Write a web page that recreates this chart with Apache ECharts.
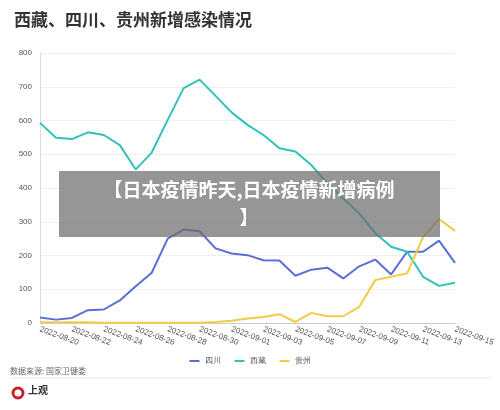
<!DOCTYPE html>
<html><head><meta charset="utf-8">
<script src="https://cdn.jsdelivr.net/npm/echarts@6/dist/echarts.min.js"></script>
<style>html,body{margin:0;padding:0;background:#fff}#c{width:500px;height:410px}</style>
</head><body><div id="c"></div>
<script>
const dates = ["2022-08-20","2022-08-21","2022-08-22","2022-08-23","2022-08-24","2022-08-25","2022-08-26","2022-08-27","2022-08-28","2022-08-29","2022-08-30","2022-08-31","2022-09-01","2022-09-02","2022-09-03","2022-09-04","2022-09-05","2022-09-06","2022-09-07","2022-09-08","2022-09-09","2022-09-10","2022-09-11","2022-09-12","2022-09-13","2022-09-14","2022-09-15"];
const sichuan = [16,10,15,38,40,67,109,149,250,277,272,221,206,201,186,185,140,158,164,132,168,188,144,211,211,244,178];
const xizang = [593,549,545,565,557,527,455,505,602,696,721,673,624,587,557,518,508,468,414,369,325,267,226,211,137,110,119];
const guizhou = [2,2,2,2,1,1,1,1,1,1,1,3,7,13,18,26,3,30,20,20,48,127,137,147,255,308,273];
const yTicks = [0,100,200,300,400,500,600,700,800];
const chart = echarts.init(document.getElementById('c'));
const line = (name, data, color) => ({name, type:'line', data, symbol:'none', smooth:false, lineStyle:{width:2, color}, itemStyle:{color}});
chart.setOption({
  animation:false,
  title:{text:'西藏、四川、贵州新增感染情况', left:9, top:6, textStyle:{fontSize:17, fontWeight:'bold', color:'#333', fontFamily:'Noto Sans CJK SC'}},
  grid:{left:40, right:45, top:53, bottom:87},
  legend:{bottom:40, left:'center', itemWidth:10, itemHeight:2, icon:'rect', itemGap:14, textStyle:{fontSize:8, color:'#555'}},
  xAxis:{type:'category', data:dates, boundaryGap:false,
    axisLine:{lineStyle:{color:'#ccc'}}, axisTick:{show:false},
    axisLabel:{interval:1, rotate:-20, fontSize:8, color:'#555', align:'left', margin:6}},
  yAxis:{type:'value', min:yTicks[0], max:yTicks[yTicks.length-1], interval:100,
    axisLabel:{fontSize:8, color:'#555'}, axisLine:{show:true, lineStyle:{color:'#ddd'}},
    splitLine:{lineStyle:{color:'#f0f0f0'}}},
  series:[line('四川', sichuan, '#5a6fd6'), line('西藏', xizang, '#2fc2b8'), line('贵州', guizhou, '#f2cc45')],
  graphic:[
    {type:'rect', shape:{x:59,y:171,width:381,height:66}, style:{fill:'rgba(110,110,110,0.72)'}, z:100},
    {type:'text', x:249, y:176, style:{text:'【日本疫情昨天,日本疫情新增病例\n】', fill:'#fff', font:'bold 19px "Noto Sans CJK SC"', align:'center', lineHeight:28}, z:101},
    {type:'text', left:10, top:367, style:{text:'数据来源: 国家卫健委', fill:'#666', font:'8px "Noto Sans CJK SC"'}},
    {type:'line', shape:{x1:10,y1:378,x2:490,y2:378}, style:{stroke:'#e5e5e5', lineWidth:1}},
    {type:'circle', shape:{cx:18, cy:393, r:5}, style:{fill:'#fff', stroke:'#c8202a', lineWidth:3}},
    {type:'text', left:28, top:385, style:{text:'上观', fill:'#333', font:'bold 10px "Noto Sans CJK SC"'}}
  ]
});
</script></body></html>
